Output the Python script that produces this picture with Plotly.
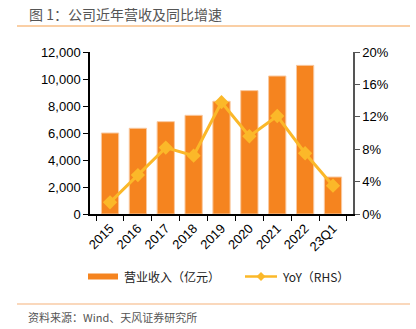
import plotly.graph_objects as go

categories = ["2015", "2016", "2017", "2018", "2019", "2020", "2021", "2022", "23Q1"]
revenue = [6000, 6350, 6840, 7310, 8350, 9140, 10220, 11010, 2740]
yoy = [0.0144, 0.048, 0.082, 0.072, 0.138, 0.096, 0.121, 0.075, 0.035]
left_ticks = [0, 2000, 4000, 6000, 8000, 10000, 12000]
right_ticks = [0, 0.04, 0.08, 0.12, 0.16, 0.20]
bar_name = "营业收入（亿元）"
line_name = "YoY（RHS）"

FONT = "Liberation Sans, Arial, Noto Sans CJK SC, sans-serif"
CJK = "Noto Sans CJK SC, sans-serif"
BAR = "#F5841F"
LINE = "#FBB829"

# plot area in pixels (for placing legend decorations)
L, R, T, B = 90, 353, 52, 214
W, H = R - L, B - T


def px(x):
    return (x - L) / W


def py(y):
    return (B - y) / H


fig = go.Figure()
fig.add_trace(go.Bar(
    x=categories, y=revenue, name=bar_name,
    marker=dict(color=BAR, line=dict(color="#F9C9A0", width=1)),
    width=0.62, yaxis="y", showlegend=False,
))
fig.add_trace(go.Scatter(
    x=categories, y=yoy, name=line_name, mode="lines+markers",
    line=dict(color=LINE, width=3),
    marker=dict(symbol="diamond", size=11, color=LINE),
    yaxis="y2", showlegend=False,
))

ly = 276.5
dx, dy = 4.5 / W, 4.5 / H
diamond = (f"M {px(261)} {py(ly)+dy} L {px(261)+dx} {py(ly)} "
           f"L {px(261)} {py(ly)-dy} L {px(261)-dx} {py(ly)} Z")

fig.update_layout(
    width=416, height=329,
    margin=dict(l=L, r=416 - R, t=T, b=329 - B),
    paper_bgcolor="white", plot_bgcolor="white",
    font=dict(family=FONT, size=13, color="#000000"),
    showlegend=False,
    xaxis=dict(
        type="category", tickangle=-45, tickson="boundaries",
        ticks="outside", ticklen=5, tickcolor="#000000",
        showline=True, linecolor="#000000", linewidth=1.5,
        showgrid=False, tickfont=dict(size=13, family=FONT),
    ),
    yaxis=dict(
        range=[0, 12000], tickvals=left_ticks, tickformat=",d",
        ticks="outside", ticklen=5, tickcolor="#000000",
        showline=True, linecolor="#000000", linewidth=1.5,
        showgrid=False, zeroline=False, tickfont=dict(size=13, family=FONT),
    ),
    yaxis2=dict(
        range=[0, 0.2], tickvals=right_ticks, tickformat=".0%",
        overlaying="y", side="right",
        ticks="outside", ticklen=5, tickcolor="#555555",
        showline=True, linecolor="#555555", linewidth=1.5,
        showgrid=False, zeroline=False, tickfont=dict(size=13, family=FONT),
    ),
    shapes=[
        dict(type="line", xref="paper", yref="paper", x0=px(17), x1=px(410),
             y0=py(26), y1=py(26), line=dict(color="#F5A04C", width=1.2)),
        dict(type="line", xref="paper", yref="paper", x0=px(17), x1=px(410),
             y0=py(304), y1=py(304), line=dict(color="#F5B27A", width=1.2)),
        # legend: bar swatch
        dict(type="rect", xref="paper", yref="paper", x0=px(88), x1=px(118),
             y0=py(279.5), y1=py(273.5), fillcolor=BAR, line=dict(width=0)),
        # legend: line swatch
        dict(type="line", xref="paper", yref="paper", x0=px(245), x1=px(277),
             y0=py(ly), y1=py(ly), line=dict(color=LINE, width=2.5)),
        dict(type="path", xref="paper", yref="paper", path=diamond,
             fillcolor=LINE, line=dict(width=0)),
    ],
    annotations=[
        dict(text="图 1：公司近年营收及同比增速", xref="paper", yref="paper",
             x=px(27), y=py(14), xanchor="left", yanchor="middle", showarrow=False,
             font=dict(family=CJK, size=14, color="#555555")),
        dict(text="资料来源：Wind、天风证券研究所", xref="paper", yref="paper",
             x=px(26), y=py(317), xanchor="left", yanchor="middle", showarrow=False,
             font=dict(family=CJK, size=11, color="#555555")),
        dict(text=bar_name, xref="paper", yref="paper",
             x=px(122), y=py(ly), xanchor="left", yanchor="middle", showarrow=False,
             font=dict(family=CJK, size=12, color="#222222")),
        dict(text=line_name, xref="paper", yref="paper",
             x=px(280), y=py(ly), xanchor="left", yanchor="middle", showarrow=False,
             font=dict(family=CJK, size=12, color="#222222")),
    ],
)

fig.write_html("out.html")
